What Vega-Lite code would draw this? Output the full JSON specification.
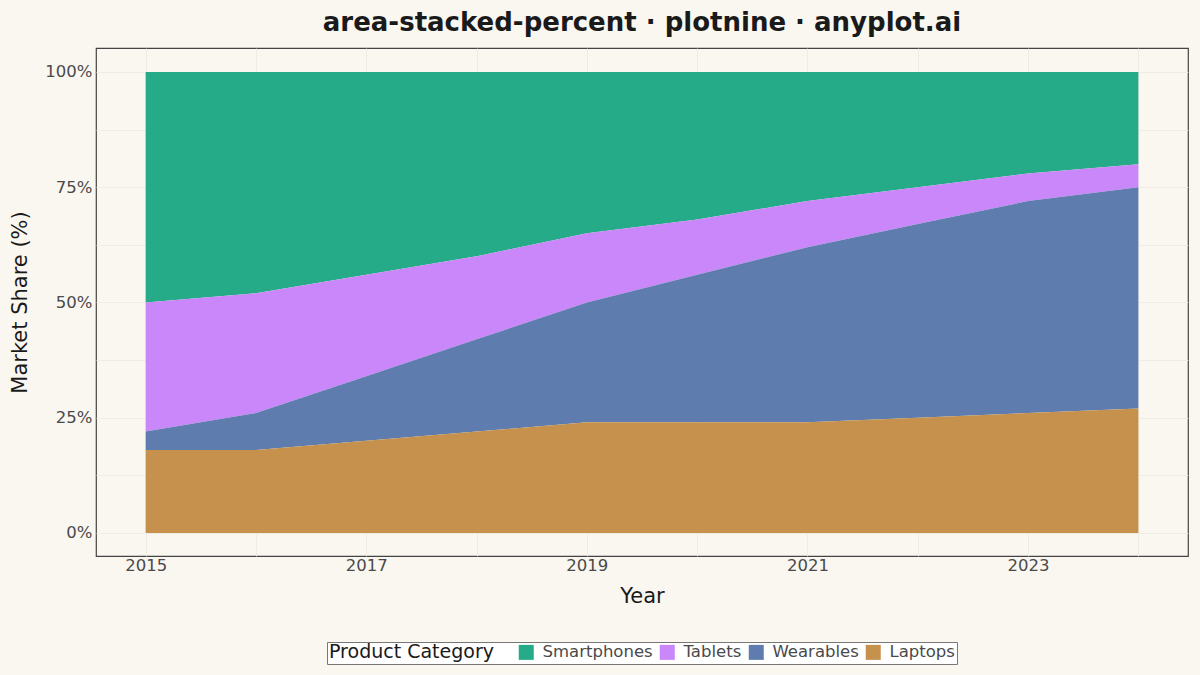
{
  "$schema": "https://vega.github.io/schema/vega-lite/v6.json",
  "width": 1200,
  "height": 675,
  "autosize": {"type": "fit", "contains": "padding"},
  "padding": {"left": 9, "right": 12, "top": 10, "bottom": 68},
  "background": "#FAF7F1",
  "title": {
    "text": "area-stacked-percent · plotnine · anyplot.ai",
    "font": "DejaVu Sans",
    "fontSize": 26,
    "fontWeight": "bold",
    "color": "#1a1a1a",
    "anchor": "middle",
    "frame": "group",
    "offset": 12
  },
  "config": {
    "font": "DejaVu Sans",
    "view": {"stroke": "#444444", "strokeWidth": 1.2},
    "axis": {
      "grid": true,
      "gridColor": "#EDE9E1",
      "gridWidth": 0.8,
      "domain": false,
      "ticks": false,
      "labelFontSize": 16.5,
      "labelColor": "#4a4a4a",
      "titleFontSize": 21,
      "titleFontWeight": "normal",
      "titleColor": "#1a1a1a"
    }
  },
  "data": {
    "values": [
      {"year": 2015, "category": "Smartphones", "share": 50, "rank": 4},
      {"year": 2015, "category": "Tablets", "share": 28, "rank": 3},
      {"year": 2015, "category": "Wearables", "share": 4, "rank": 2},
      {"year": 2015, "category": "Laptops", "share": 18, "rank": 1},
      {"year": 2016, "category": "Smartphones", "share": 48, "rank": 4},
      {"year": 2016, "category": "Tablets", "share": 26, "rank": 3},
      {"year": 2016, "category": "Wearables", "share": 8, "rank": 2},
      {"year": 2016, "category": "Laptops", "share": 18, "rank": 1},
      {"year": 2017, "category": "Smartphones", "share": 44, "rank": 4},
      {"year": 2017, "category": "Tablets", "share": 22, "rank": 3},
      {"year": 2017, "category": "Wearables", "share": 14, "rank": 2},
      {"year": 2017, "category": "Laptops", "share": 20, "rank": 1},
      {"year": 2018, "category": "Smartphones", "share": 40, "rank": 4},
      {"year": 2018, "category": "Tablets", "share": 18, "rank": 3},
      {"year": 2018, "category": "Wearables", "share": 20, "rank": 2},
      {"year": 2018, "category": "Laptops", "share": 22, "rank": 1},
      {"year": 2019, "category": "Smartphones", "share": 35, "rank": 4},
      {"year": 2019, "category": "Tablets", "share": 15, "rank": 3},
      {"year": 2019, "category": "Wearables", "share": 26, "rank": 2},
      {"year": 2019, "category": "Laptops", "share": 24, "rank": 1},
      {"year": 2020, "category": "Smartphones", "share": 32, "rank": 4},
      {"year": 2020, "category": "Tablets", "share": 12, "rank": 3},
      {"year": 2020, "category": "Wearables", "share": 32, "rank": 2},
      {"year": 2020, "category": "Laptops", "share": 24, "rank": 1},
      {"year": 2021, "category": "Smartphones", "share": 28, "rank": 4},
      {"year": 2021, "category": "Tablets", "share": 10, "rank": 3},
      {"year": 2021, "category": "Wearables", "share": 38, "rank": 2},
      {"year": 2021, "category": "Laptops", "share": 24, "rank": 1},
      {"year": 2022, "category": "Smartphones", "share": 25, "rank": 4},
      {"year": 2022, "category": "Tablets", "share": 8, "rank": 3},
      {"year": 2022, "category": "Wearables", "share": 42, "rank": 2},
      {"year": 2022, "category": "Laptops", "share": 25, "rank": 1},
      {"year": 2023, "category": "Smartphones", "share": 22, "rank": 4},
      {"year": 2023, "category": "Tablets", "share": 6, "rank": 3},
      {"year": 2023, "category": "Wearables", "share": 46, "rank": 2},
      {"year": 2023, "category": "Laptops", "share": 26, "rank": 1},
      {"year": 2024, "category": "Smartphones", "share": 20, "rank": 4},
      {"year": 2024, "category": "Tablets", "share": 5, "rank": 3},
      {"year": 2024, "category": "Wearables", "share": 48, "rank": 2},
      {"year": 2024, "category": "Laptops", "share": 27, "rank": 1}
    ]
  },
  "mark": {"type": "area", "opacity": 1},
  "encoding": {
    "x": {
      "field": "year",
      "type": "quantitative",
      "title": "Year",
      "scale": {"domain": [2014.55, 2024.45], "nice": false, "zero": false},
      "axis": {
        "values": [2015, 2016, 2017, 2018, 2019, 2020, 2021, 2022, 2023, 2024],
        "labelExpr": "datum.value % 2 == 1 ? datum.value : ''",
        "labelPadding": 1,
        "titlePadding": 12
      }
    },
    "y": {
      "field": "share",
      "type": "quantitative",
      "stack": "normalize",
      "title": "Market Share (%)",
      "scale": {"domain": [-0.05, 1.052], "nice": false, "zero": false},
      "axis": {
        "values": [0, 0.125, 0.25, 0.375, 0.5, 0.625, 0.75, 0.875, 1],
        "labelExpr": "datum.value * 4 == round(datum.value * 4) ? format(datum.value, '.0%') : ''",
        "labelPadding": 4,
        "titlePadding": 14
      }
    },
    "color": {
      "field": "category",
      "type": "nominal",
      "scale": {
        "domain": ["Smartphones", "Tablets", "Wearables", "Laptops"],
        "range": ["#25AB88", "#C987F9", "#5E7DAE", "#C6914D"]
      },
      "legend": {
        "title": "Product Category",
        "orient": "none",
        "legendX": 231,
        "legendY": 594,
        "direction": "horizontal",
        "titleOrient": "left",
        "titlePadding": 24,
        "titleFontSize": 19,
        "titleFontWeight": "normal",
        "titleColor": "#1a1a1a",
        "labelFontSize": 16.5,
        "labelColor": "#4a4a4a",
        "labelOffset": 8,
        "symbolType": "square",
        "symbolSize": 225,
        "symbolStrokeWidth": 0,
        "columnPadding": 6,
        "fillColor": "#FFFFFF",
        "strokeColor": "#777777",
        "padding": 2
      }
    },
    "order": {"field": "rank", "type": "quantitative"}
  }
}
